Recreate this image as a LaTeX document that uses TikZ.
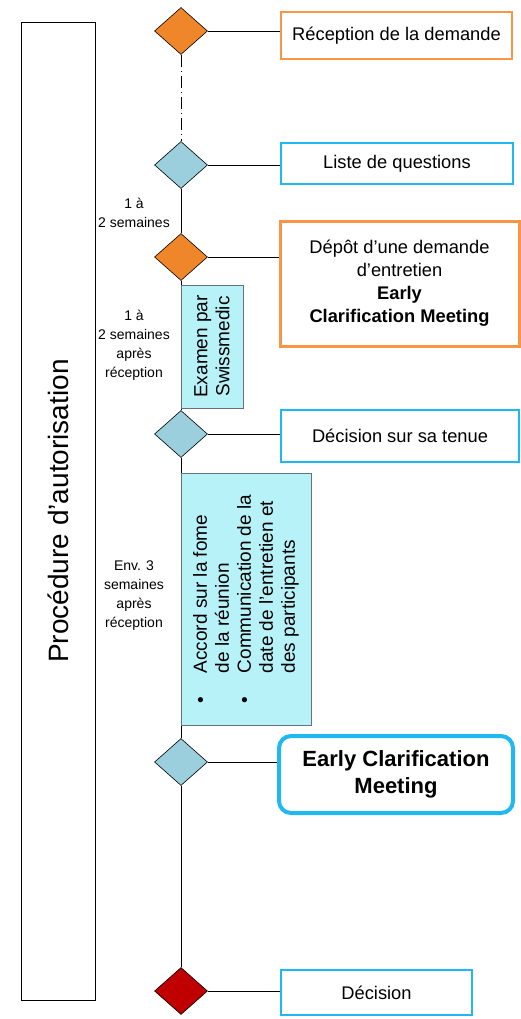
\documentclass[tikz,border=0pt]{standalone}
\usepackage{fontspec}
\setmainfont{Liberation Sans}
\usepackage{tikz}
\usetikzlibrary{shapes.geometric}

\definecolor{orangeD}{HTML}{F0862A}
\definecolor{blueD}{HTML}{9BCFDD}
\definecolor{redD}{HTML}{C00000}
\definecolor{orangeL}{HTML}{F79646}
\definecolor{blueL}{HTML}{1FB8F0}
\definecolor{cyanF}{HTML}{B8F2F9}
\definecolor{grayL}{HTML}{66717C}

\begin{document}
\begin{tikzpicture}[x=1pt, y=-1pt,
	milestone/.style={diamond, draw=black, line width=0.6, inner sep=0, minimum width=53, minimum height=47},
	infobox/.style={draw, line width=1.2, align=center, font=\fontsize{18.3}{23}\selectfont},
	taskbox/.style={draw=grayL, fill=cyanF, line width=1, rotate=90, font=\fontsize{19}{22}\selectfont},
	delay/.style={align=center, font=\fontsize{14}{19}\selectfont}]
		
		\useasboundingbox (0,0) rectangle (521,1019);
		
		% frame on the left
		\node[draw, line width=0.8, rotate=90, minimum width=978, minimum height=74,
			font=\fontsize{28}{30}\selectfont] (proc) at (58,511) {Procédure d'autorisation};
		
		% milestones
		\foreach \n/\y/\c in {d1/31/orangeD, d2/165/blueD, d3/257/orangeD, d4/434/blueD, d5/762/blueD, d6/991/redD}{
			\node[milestone, fill=\c] (\n) at (181,\y) {};
		}
		
		% time line
		\draw[line width=0.8, dash pattern=on 12pt off 4pt on 1pt off 4pt] (d1) -- (d2);
		\draw[line width=0.8] (d2) -- (d3) -- (d4) -- (d5) -- (d6);
		
		% boxes on the right
		\node[infobox, draw=orangeL, minimum width=231, minimum height=47] (r1) at (396.5,35.5) {Réception de la demande};
		\node[infobox, draw=blueL, minimum width=232, minimum height=41] (r2) at (397,163.5) {Liste de questions};
		\node[infobox, draw=orangeL, line width=3, minimum width=239, minimum height=125] (r3) at (399.5,283.5)
			{Dépôt d’une demande\\d’entretien\\\textbf{Early}\\\textbf{Clarification Meeting}};
		\node[infobox, draw=blueL, line width=2, minimum width=238, minimum height=52] (r4) at (400,436) {Décision sur sa tenue};
		\node[infobox, draw=blueL, line width=4, rounded corners=12, minimum width=234, minimum height=77,
			font=\fontsize{22}{27}\selectfont\bfseries] (r5) at (396,774.5) {Early Clarification\\Meeting};
		\node[infobox, draw=blueL, minimum width=191, minimum height=45] (r6) at (376.5,992.5) {Décision};
		
		\foreach \a/\b in {d1/r1, d2/r2, d3/r3, d4/r4, d5/r5, d6/r6}{
			\draw[line width=0.8] (\a.east) -- (\a.east -| \b.west);
		}
		
		% tasks
		\node[taskbox, align=center, minimum width=123, minimum height=62] (exam) at (212,346.5) {Examen par\\Swissmedic};
		\node[taskbox, align=left, minimum width=252, minimum height=130] (accord) at (246,599)
			{\makebox[30pt][l]{\textbullet}Accord sur la fome\\
			\hspace*{30pt}de la réunion\\
			\makebox[30pt][l]{\textbullet}Communication de la\\
			\hspace*{30pt}date de l'entretien et\\
			\hspace*{30pt}des participants};
		
		% delays
		\node[delay] (w1) at (134,213) {1 à\\2 semaines};
		\node[delay] (w2) at (134,345) {1 à\\2 semaines\\après\\réception};
		\node[delay] (w3) at (134,596) {Env. 3\\semaines\\après\\réception};
		
	\end{tikzpicture}
\end{document}
